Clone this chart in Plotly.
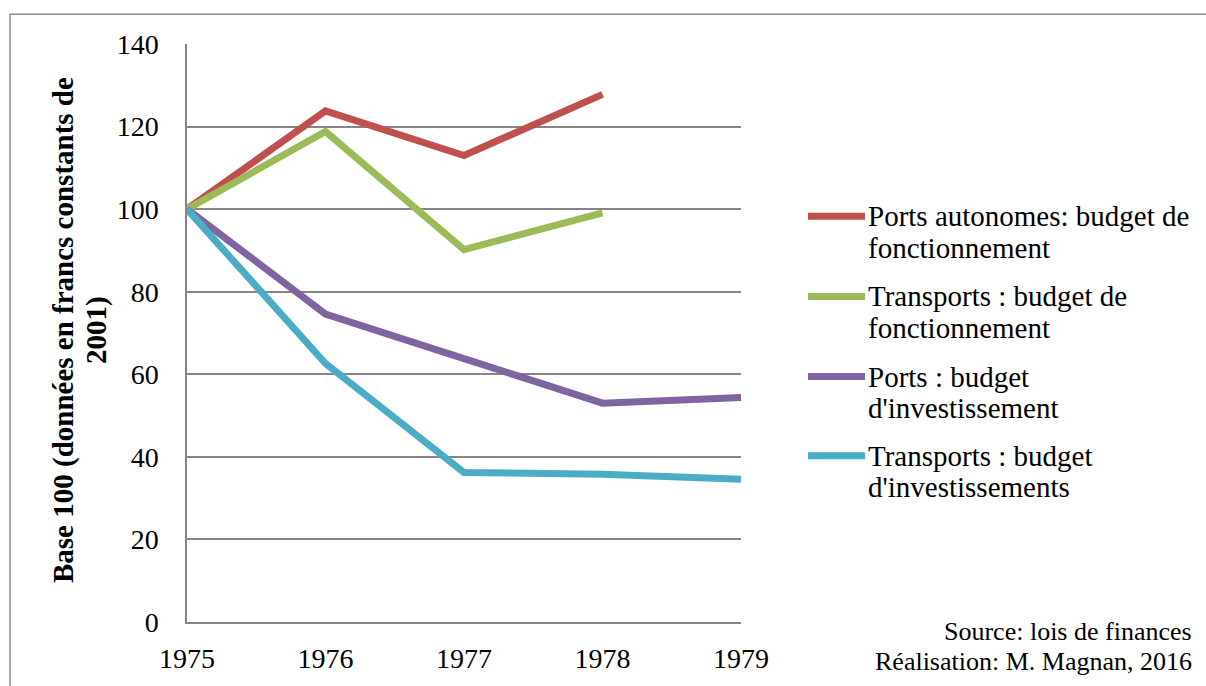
import plotly.graph_objects as go

years = [1975, 1976, 1977, 1978, 1979]
series_names = [
    "Ports autonomes: budget de fonctionnement",
    "Transports : budget de fonctionnement",
    "Ports : budget d'investissement",
    "Transports : budget d'investissements",
]
legend_lines = [
    ["Ports autonomes: budget de", "fonctionnement"],
    ["Transports : budget de", "fonctionnement"],
    ["Ports : budget", "d'investissement"],
    ["Transports : budget", "d'investissements"],
]
ports_auto_fonct = [100, 123.8, 113.0, 127.8, None]
transports_fonct = [100, 118.8, 90.2, 99.1, None]
ports_invest = [100, 74.6, 63.8, 53.0, 54.4]
transports_invest = [100, 62.6, 36.2, 35.8, 34.6]
series_values = [ports_auto_fonct, transports_fonct, ports_invest, transports_invest]
colors = ["#C0504D", "#9BBB59", "#8064A2", "#4BACC6"]

y_ticks = [0, 20, 40, 60, 80, 100, 120, 140]

W, H = 1206, 686
ML, MR, MT, MB = 187, 465, 44, 58
PW, PH = W - ML - MR, H - MT - MB

def px(x):
    return (x - ML) / PW

def py(y):
    return (H - MB - y) / PH

FONT = "Liberation Serif, Times New Roman, serif"

fig = go.Figure()
for name, vals, c in zip(series_names, series_values, colors):
    fig.add_trace(go.Scatter(x=years, y=vals, mode="lines", name=name,
                             line=dict(color=c, width=7), connectgaps=False,
                             showlegend=False))

shapes = [dict(type="rect", xref="paper", yref="paper",
               x0=px(10), x1=px(1230), y0=py(14), y1=py(720),
               line=dict(color="#8a8a8a", width=1.5), layer="below")]
annotations = []
legend_y = [218, 299, 380, 460]
for lines, c, ly in zip(legend_lines, colors, legend_y):
    shapes.append(dict(type="line", xref="paper", yref="paper",
                       x0=px(808), x1=px(865), y0=py(ly), y1=py(ly),
                       line=dict(color=c, width=7)))
    for i, t in enumerate(lines):
        annotations.append(dict(xref="paper", yref="paper", x=px(866), y=py(ly + 32 * i),
                                xanchor="left", yanchor="middle", align="left",
                                text=t, showarrow=False,
                                font=dict(family=FONT, size=29, color="#000")))

title_lines = ["Base 100 (données en francs constants de", "2001)"]
for i, t in enumerate(title_lines):
    annotations.append(dict(xref="paper", yref="paper", x=px(63 + 33 * i), y=py(333),
                            xanchor="center", yanchor="middle", textangle=-90,
                            text="<b>" + t + "</b>", showarrow=False,
                            font=dict(family=FONT, size=29, color="#000")))

source_lines = ["Source: lois de finances", "Réalisation: M. Magnan, 2016"]
for i, t in enumerate(source_lines):
    annotations.append(dict(xref="paper", yref="paper", x=px(1194), y=py(638 + 30 * i),
                            xanchor="right", yanchor="middle", align="right",
                            text=t, showarrow=False,
                            font=dict(family=FONT, size=26, color="#000")))

fig.update_layout(
    width=W, height=H,
    margin=dict(l=ML, r=MR, t=MT, b=MB, pad=0),
    paper_bgcolor="white", plot_bgcolor="white",
    font=dict(family=FONT, size=28, color="#000"),
    shapes=shapes, annotations=annotations,
    xaxis=dict(range=[1975, 1979], tickvals=years, ticktext=[str(y) for y in years],
               showgrid=False, showline=True, linecolor="#868686", linewidth=1.5,
               zeroline=False, ticks="outside", ticklen=11, tickcolor="rgba(0,0,0,0)",
               tickfont=dict(size=28)),
    yaxis=dict(range=[0, 140], tickvals=y_ticks, showgrid=True, gridcolor="#868686",
               gridwidth=1.5, showline=True, linecolor="#868686", linewidth=1.5,
               zeroline=False, ticks="outside", ticklen=21, tickcolor="rgba(0,0,0,0)",
               tickfont=dict(size=28)),
)

fig.write_html("out.html", config={"displayModeBar": False},
               post_script="document.body.style.margin='0';document.body.style.overflow='hidden';")
